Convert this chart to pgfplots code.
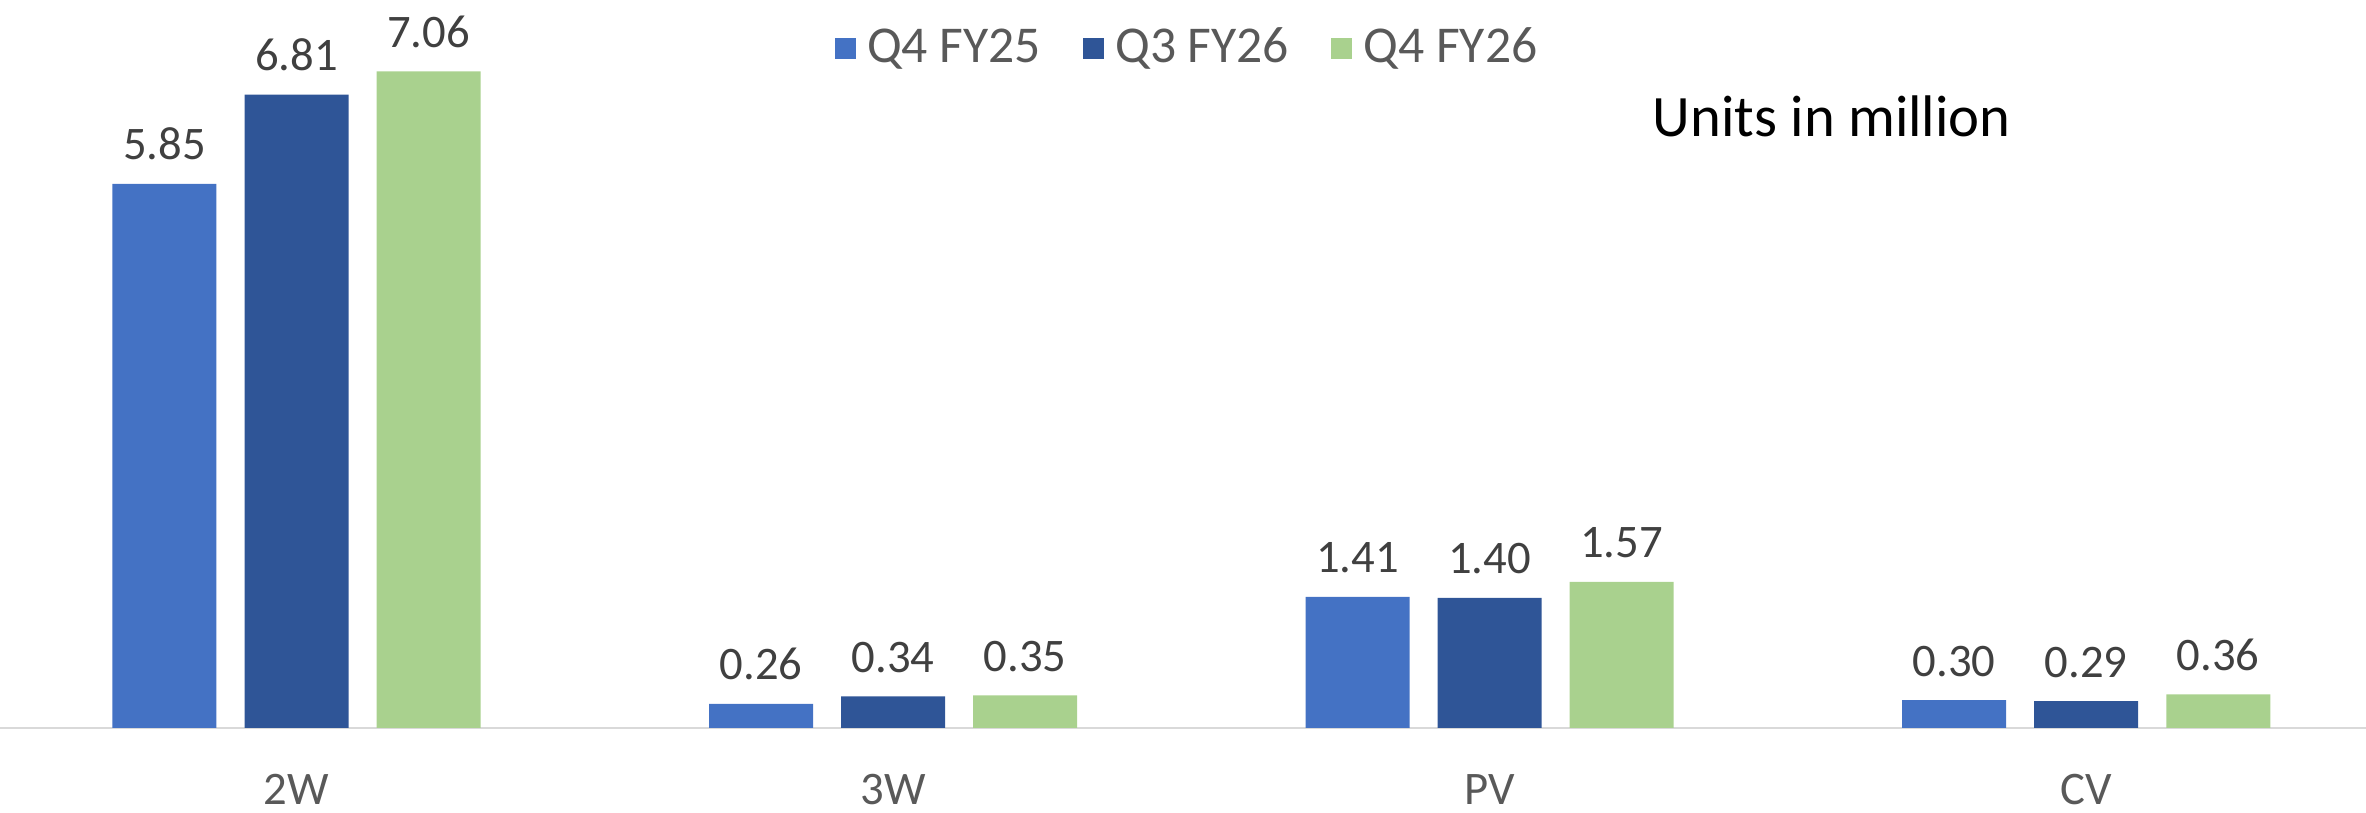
\documentclass[border=0pt]{standalone}
\usepackage{fontspec}
\setmainfont{Carlito}
\usepackage{pgfplots}
\pgfplotsset{compat=1.18}
\definecolor{cA}{HTML}{4472C4}
\definecolor{cB}{HTML}{2F5597}
\definecolor{cC}{HTML}{A9D18E}
\definecolor{lbl}{HTML}{404040}
\definecolor{tick}{HTML}{595959}
\definecolor{axl}{HTML}{D9D9D9}
\begin{document}
\begin{tikzpicture}
\begin{axis}[
  scale only axis,
  width=709.8pt, height=218.4pt,
  xmin=-0.497, xmax=3.469, ymin=0, ymax=7.828,
  ybar=8.4pt, bar width=31.2pt,
  axis x line*=bottom, axis y line=none,
  x axis line style={draw=axl, line width=0.75pt, -},
  xtick={0,1,2,3}, xticklabels={2W,3W,PV,CV},
  major tick length=0pt,
  xticklabel style={font=\fontsize{14}{16}\selectfont, text=tick, anchor=base, yshift=-23.1pt},
  /pgf/number format/assume math mode=true,
  nodes near coords={\pgfmathprintnumber[fixed,zerofill,precision=2]{\pgfplotspointmeta}},
  every node near coord/.append style={font=\fontsize{14}{16}\selectfont, text=lbl, anchor=base, yshift=7.2pt, inner sep=0pt},
  clip=false,
  legend columns=3,
  legend style={draw=none, fill=none, inner sep=0pt, at={(rel axis cs:0.3525,0.934)}, anchor=west,
    font=\fontsize{15.5}{18}\selectfont, text=tick,
    /tikz/every odd column/.append style={column sep=3.4pt},
    /tikz/every even column/.append style={column sep=12.6pt},
    nodes={inner sep=0pt}},
  legend image code/.code={\fill[#1] (0pt,-3.15pt) rectangle (6.3pt,3.15pt);},
]
\addplot[fill=cA, draw=none] coordinates {(0,5.85) (1,0.26) (2,1.41) (3,0.30)};
\addplot[fill=cB, draw=none] coordinates {(0,6.81) (1,0.34) (2,1.40) (3,0.29)};
\addplot[fill=cC, draw=none] coordinates {(0,7.06) (1,0.35) (2,1.57) (3,0.36)};
\legend{Q4 FY25, Q3 FY26, Q4 FY26}
\node[anchor=base west, inner sep=0pt, font=\fontsize{17.6}{20}\selectfont, text=black] at (rel axis cs:0.6983,0.8118) {Units in million};
\coordinate (bl) at (rel axis cs:0,0);
\coordinate (tr) at (rel axis cs:1,1);
\end{axis}
\pgfresetboundingbox
\path ([yshift=-25.5pt]bl) rectangle (tr);
\end{tikzpicture}
\end{document}
